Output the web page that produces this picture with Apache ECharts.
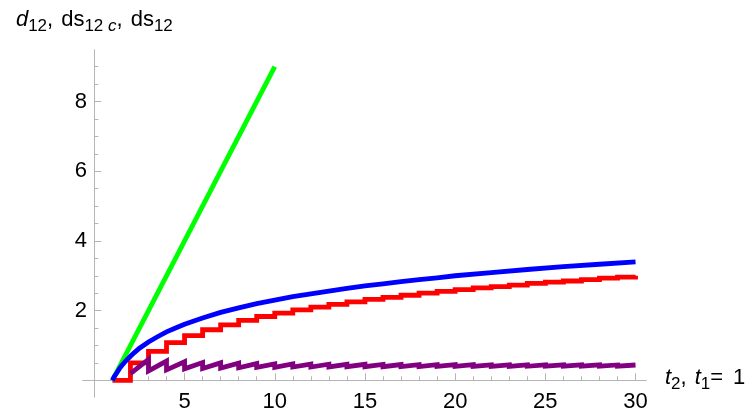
<!DOCTYPE html>
<html>
<head>
<meta charset="utf-8">
<script src="https://cdn.jsdelivr.net/npm/echarts@6/dist/echarts.min.js"></script>
<style>
  html, body { margin: 0; padding: 0; background: #fff; }
  #chart { width: 756px; height: 420px; }
</style>
</head>
<body>
<div id="chart"></div>
<script>
// d12 = t2 - t1 (green)
const greenX = [1, 10];
const greenY = [0, 9];

// continuous log curve (blue)
const blueX = [1, 1.1, 1.2, 1.3, 1.4, 1.5, 1.75, 2, 2.25, 2.5, 3, 3.5, 4, 4.5, 5, 6, 7, 8, 9, 10,
  11, 12, 13, 14, 15, 16, 17, 18, 19, 20, 22, 24, 26, 28, 30];
const blueY = [0, 0.10, 0.18, 0.26, 0.34, 0.41, 0.56, 0.69, 0.81, 0.92, 1.10, 1.25, 1.39, 1.50, 1.61, 1.79, 1.95, 2.08, 2.20, 2.30,
  2.40, 2.48, 2.56, 2.64, 2.71, 2.77, 2.83, 2.89, 2.94, 3.00, 3.09, 3.18, 3.26, 3.33, 3.40];

// staircase (red), value from each integer t2
const redX = [1, 2, 3, 4, 5, 6, 7, 8, 9, 10, 11, 12, 13, 14, 15, 16, 17, 18, 19, 20,
  21, 22, 23, 24, 25, 26, 27, 28, 29, 30];
const redY = [0, 0.50, 0.83, 1.08, 1.28, 1.45, 1.59, 1.72, 1.83, 1.93, 2.02, 2.10, 2.18, 2.25, 2.32, 2.38, 2.44, 2.50, 2.55, 2.60,
  2.65, 2.69, 2.73, 2.78, 2.82, 2.85, 2.89, 2.93, 2.96, 3.00];

// sawtooth (purple): low value at integer n, high value just before n+1
const purpleN = [2, 3, 4, 5, 6, 7, 8, 9, 10, 11, 12, 13, 14, 15, 16, 17, 18, 19, 20,
  21, 22, 23, 24, 25, 26, 27, 28, 29];
const purpleLow = [0.19, 0.27, 0.30, 0.33, 0.34, 0.35, 0.36, 0.37, 0.37, 0.38, 0.38, 0.385, 0.39, 0.39, 0.39, 0.394, 0.395, 0.397, 0.398,
  0.399, 0.40, 0.401, 0.402, 0.403, 0.404, 0.404, 0.405, 0.406];
const purpleHigh = [0.60, 0.55, 0.53, 0.51, 0.50, 0.49, 0.48, 0.47, 0.47, 0.465, 0.46, 0.46, 0.457, 0.455, 0.453, 0.451, 0.45, 0.448, 0.447,
  0.445, 0.444, 0.444, 0.443, 0.442, 0.441, 0.441, 0.44, 0.439];

const xMajorTicks = [5, 10, 15, 20, 25, 30];
const xMinorTicks = [1, 2, 3, 4, 6, 7, 8, 9, 11, 12, 13, 14, 16, 17, 18, 19, 21, 22, 23, 24, 26, 27, 28, 29];
const yMajorTicks = [2, 4, 6, 8];
const yMinorTicks = [0.5, 1, 1.5, 2.5, 3, 3.5, 4.5, 5, 5.5, 6.5, 7, 7.5, 8.5, 9];

const zip = (xs, ys) => xs.map((x, i) => [x, ys[i]]);

// red as explicit step path (horizontal, then jump at next integer)
const redPath = [[redX[0], redY[0]]];
for (let i = 1; i < redX.length; i++) {
  redPath.push([redX[i], redY[i - 1]]);
  redPath.push([redX[i], redY[i]]);
}
const purplePath = [];
purpleN.forEach((n, i) => {
  purplePath.push([n, purpleLow[i]]);
  purplePath.push([n + 1, purpleHigh[i]]);
});

const font = "'Liberation Sans', Arial, sans-serif";
const axisGray = '#b5b5b5';
const lineW = 4.8;

const nameRich = {
  n: { fontSize: 22, fontFamily: font, color: '#000', verticalAlign: 'bottom', padding: [0, 0, 4, 0] },
  sp: { fontSize: 22, fontFamily: font, color: '#000', verticalAlign: 'bottom', padding: [0, 0, 4, 0], width: 8 },
  sp2: { fontSize: 22, fontFamily: font, color: '#000', verticalAlign: 'bottom', padding: [0, 0, 4, 0], width: 10 },
  i: { fontSize: 22, fontFamily: font, fontStyle: 'italic', color: '#000', verticalAlign: 'bottom', padding: [0, 0, 4, 0] },
  s: { fontSize: 17, fontFamily: font, color: '#000', verticalAlign: 'bottom' },
  si: { fontSize: 17, fontFamily: font, fontStyle: 'italic', color: '#000', verticalAlign: 'bottom' }
};

const xRange = { min: -0.63, max: 30.58 };
const yRange = { min: -0.48, max: 9.48 };

const chart = echarts.init(document.getElementById('chart'), null, { renderer: 'canvas' });

// whole path drawn once through api.coord, so tiny steps are not dropped
const pathSeries = (path, color) => ({
  type: 'custom',
  data: path,
  encode: { x: 0, y: 1 },
  silent: true,
  z: 3,
  renderItem: (params, api) => {
    if (params.dataIndex !== 0) return null;
    return {
      type: 'polyline',
      shape: { points: path.map(p => api.coord(p)) },
      style: { stroke: color, lineWidth: lineW, fill: null, lineJoin: 'miter', lineCap: 'butt' }
    };
  }
});

const lineSeries = (data, color) => ({
  type: 'line',
  data: data,
  showSymbol: false,
  symbol: 'none',
  lineStyle: { color: color, width: lineW, join: 'miter', cap: 'butt' },
  itemStyle: { color: color },
  silent: true,
  z: 3
});

const axisCommon = (extra) => Object.assign({
  type: 'value',
  splitLine: { show: false },
  axisLine: { show: true, onZero: true, onZeroAxisIndex: 0, lineStyle: { color: axisGray, width: 1 } }
}, extra);

chart.setOption({
  animation: false,
  backgroundColor: '#fff',
  grid: { left: 83, top: 50, width: 563, height: 347, containLabel: false, outerBoundsMode: 'none' },
  xAxis: [
    axisCommon(Object.assign({
      position: 'bottom',
      axisTick: { show: true, inside: true, length: 7, customValues: xMajorTicks, lineStyle: { color: axisGray } },
      // labels sit at the grid edge, so pull them up to the zero line
      axisLabel: { show: true, customValues: xMajorTicks, margin: -6, fontSize: 22, fontFamily: font, color: '#000' },
      name: '{i|t}{s|2}{n|,}{sp| }{i|t}{s|1}{n|=}{sp2| }{n|1}',
      nameLocation: 'end',
      nameGap: 19,
      nameTextStyle: { rich: nameRich, align: 'left', verticalAlign: 'middle' }
    }, xRange)),
    axisCommon(Object.assign({
      position: 'bottom',
      axisTick: { show: true, inside: true, length: 4, customValues: xMinorTicks, lineStyle: { color: axisGray } },
      axisLabel: { show: false }
    }, xRange))
  ],
  yAxis: [
    axisCommon(Object.assign({
      position: 'left',
      axisTick: { show: true, inside: true, length: 7, customValues: yMajorTicks, lineStyle: { color: axisGray } },
      axisLabel: { show: true, customValues: yMajorTicks, margin: -4, fontSize: 22, fontFamily: font, color: '#000' },
      name: '{i|d}{s|12}{n|,}{sp| }{n|ds}{s|12 }{si|c}{n|,}{sp| }{n|ds}{s|12}',
      nameLocation: 'end',
      nameGap: 15,
      nameTextStyle: { rich: nameRich }
    }, yRange)),
    axisCommon(Object.assign({
      position: 'left',
      axisTick: { show: true, inside: true, length: 4, customValues: yMinorTicks, lineStyle: { color: axisGray } },
      axisLabel: { show: false }
    }, yRange))
  ],
  series: [
    lineSeries(zip(greenX, greenY), '#00ff00'),
    lineSeries(zip(blueX, blueY), '#0000ff'),
    pathSeries(redPath, '#ff0000'),
    pathSeries(purplePath, '#800080')
  ]
});
</script>
</body>
</html>
